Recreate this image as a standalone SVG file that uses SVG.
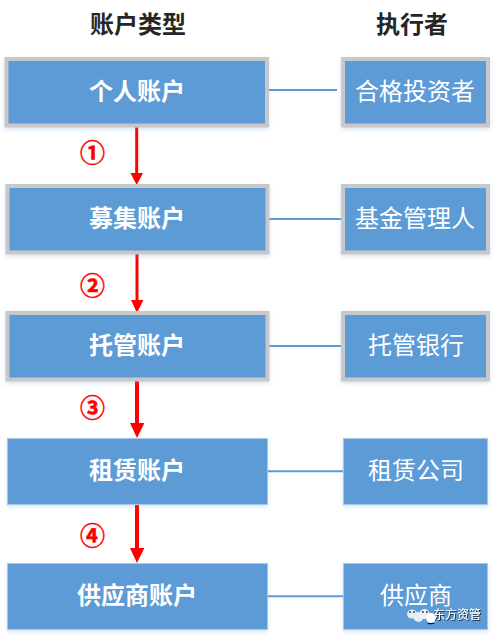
<svg xmlns="http://www.w3.org/2000/svg" width="495" height="638" viewBox="0 0 495 638">
<style>
text{font-family:"Noto Sans CJK SC","Noto Sans CJK JP",sans-serif;text-anchor:middle}
.h{font-size:24px;font-weight:700;fill:#262626}
.a{font-size:24px;font-weight:700;fill:#fff}
.e{font-size:24px;fill:#fff}
.n{font-size:25px;font-weight:700;fill:#f00;stroke:#f00;stroke-width:.5}
.box{fill:#5b9bd5;stroke:#c8c8c8;stroke-width:4}
.plain{fill:#5b9bd5;stroke:#a9c6e4;stroke-width:1}
.link{stroke:#5b9bd5;stroke-width:2;fill:none}
.flow{stroke:#f00;stroke-width:3;fill:none}
.flow2{stroke:#f00;stroke-width:4;fill:none}
.wm{font-size:12px;fill:#fff;filter:url(#ws)}
</style>
<defs>
<filter id="sh" x="-5%" y="-5%" width="110%" height="115%"><feDropShadow dx="0" dy="2" stdDeviation="2" flood-color="#5b9bd5" flood-opacity=".25"/></filter>
<filter id="ws" x="-10%" y="-20%" width="120%" height="150%"><feDropShadow dx="1" dy="1" stdDeviation=".4" flood-color="#222" flood-opacity=".9"/></filter>
</defs>
<text class="h" x="138" y="33">账户类型</text>
<text class="h" x="412" y="33">执行者</text>
<g id="connectors">
<path class="link" d="M266 90H337"/>
<path class="link" d="M267 219H344"/>
<path class="link" d="M267 346H344"/>
<path class="link" d="M268 471.300H343"/>
<path class="link" d="M268 596.300H343"/>
<path class="flow" d="M136.700 124V174"/><path fill="#f00" d="M130.400 173H143L136.700 185z"/>
<path class="flow" d="M137 252V301"/><path fill="#f00" d="M131 300H143.400L137 313z"/>
<path class="flow2" d="M137 378V424"/><path fill="#f00" d="M130 423H144.400L137 438z"/>
<path class="flow2" d="M137 503V549"/><path fill="#f00" d="M130 548H144.400L137 563z"/>
</g>
<g id="n1"><rect class="box" x="6.500" y="59" width="260.500" height="66.500" filter="url(#sh)"/><text class="a" x="137" y="100">个人账户</text></g>
<g id="n2"><rect class="box" x="7.500" y="186" width="260" height="66.500" filter="url(#sh)"/><text class="a" x="137" y="227">募集账户</text></g>
<g id="n3"><rect class="box" x="7.500" y="313" width="260" height="66.500" filter="url(#sh)"/><text class="a" x="137" y="354">托管账户</text></g>
<g id="n4"><rect class="plain" x="7.500" y="438.500" width="260" height="66" filter="url(#sh)"/><text class="a" x="137" y="479">租赁账户</text></g>
<g id="n5"><rect class="plain" x="7.500" y="563.500" width="260" height="66" filter="url(#sh)"/><text class="a" x="137" y="604">供应商账户</text></g>
<g id="e1"><rect class="box" x="343" y="59" width="145" height="66.500" filter="url(#sh)"/><text class="e" x="415" y="100">合格投资者</text></g>
<g id="e2"><rect class="box" x="343" y="186" width="145" height="66.500" filter="url(#sh)"/><text class="e" x="415" y="227">基金管理人</text></g>
<g id="e3"><rect class="box" x="343" y="313" width="145" height="66.500" filter="url(#sh)"/><text class="e" x="416" y="354">托管银行</text></g>
<g id="e4"><rect class="plain" x="343.500" y="438.500" width="144" height="66" filter="url(#sh)"/><text class="e" x="416" y="479">租赁公司</text></g>
<g id="e5"><rect class="plain" x="343.500" y="563.500" width="144" height="66" filter="url(#sh)"/><text class="e" x="416" y="604">供应商</text></g>
<g id="labels">
<text class="n" x="92.500" y="162">①</text>
<text class="n" x="92.500" y="294.500">②</text>
<text class="n" x="92.500" y="417">③</text>
<text class="n" x="92.500" y="544.500">④</text>
</g>
<g id="watermark">
<ellipse cx="412" cy="614" rx="5" ry="4.500" fill="#e4edf6"/>
<ellipse cx="418.500" cy="617" rx="5" ry="5" fill="#e4edf6"/>
<ellipse cx="424.500" cy="614" rx="5" ry="5" fill="#eef3f8"/>
<ellipse cx="431" cy="618" rx="5" ry="5" fill="#fff"/>
<circle cx="410" cy="612" r=".9" fill="#333"/><circle cx="414" cy="612" r=".9" fill="#333"/>
<circle cx="423" cy="612" r=".9" fill="#333"/><circle cx="427" cy="612" r=".9" fill="#333"/>
<path d="M427 623a5 3 0 0 0 8 0z" fill="#111"/>
<text class="wm" x="457" y="619">东方资管</text>
</g>
</svg>
